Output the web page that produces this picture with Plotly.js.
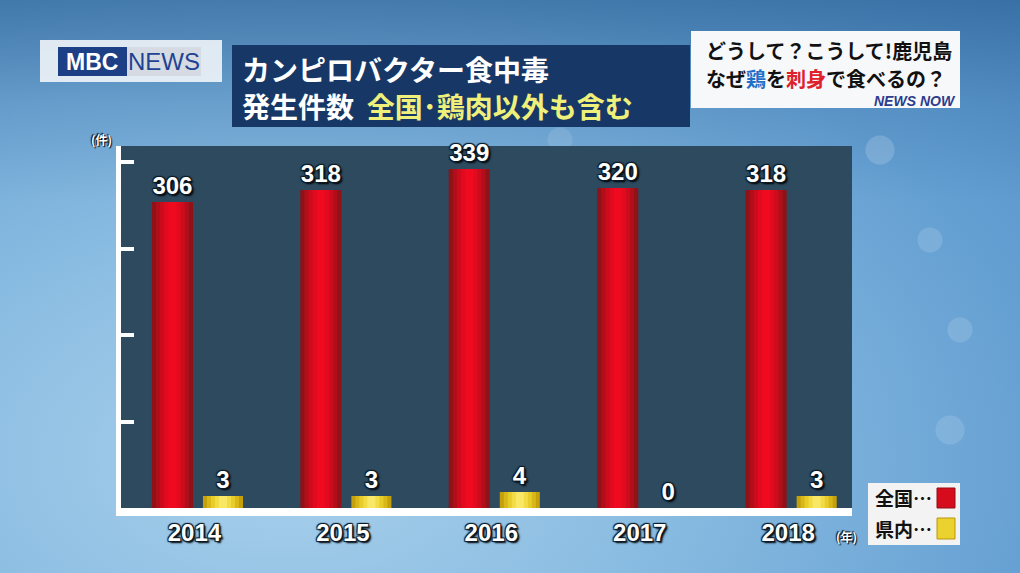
<!DOCTYPE html>
<html>
<head>
<meta charset="utf-8">
<script src="https://cdn.plot.ly/plotly-3.0.1.min.js"></script>
<style>
html,body{margin:0;padding:0;}
#bg{position:absolute;left:0;top:0;width:1020px;height:573px;
background:
 radial-gradient(circle at 880px 150px, rgba(255,255,255,0.16) 0, rgba(255,255,255,0.16) 14px, rgba(255,255,255,0) 15px),
 radial-gradient(circle at 930px 240px, rgba(255,255,255,0.13) 0, rgba(255,255,255,0.13) 12px, rgba(255,255,255,0) 13px),
 radial-gradient(circle at 960px 330px, rgba(255,255,255,0.13) 0, rgba(255,255,255,0.13) 12px, rgba(255,255,255,0) 13px),
 radial-gradient(circle at 950px 430px, rgba(255,255,255,0.12) 0, rgba(255,255,255,0.12) 14px, rgba(255,255,255,0) 15px),
 radial-gradient(circle at 560px 140px, rgba(255,255,255,0.10) 0, rgba(255,255,255,0.10) 12px, rgba(255,255,255,0) 13px),
 linear-gradient(180deg, rgba(25,75,125,0.45) 0, rgba(25,75,125,0.15) 18%, rgba(25,75,125,0) 35%),
 radial-gradient(ellipse at 28% 80%, #a9d0ec 0%, #8bbde2 35%, #649fd2 75%, #5390c8 100%);}
#chart{position:absolute;left:0;top:0;width:1020px;height:573px;}
</style>
</head>
<body>
<div id="bg"></div>
<div id="chart"></div>
<script>
// ---- data ----
const years = ['2014', '2015', '2016', '2017', '2018'];
const nationalCases = [306, 318, 339, 320, 318];   // 全国
const prefectureCases = [3, 3, 4, 0, 3];           // 県内
const seriesNames = ['全国', '県内'];
const titleLine1 = 'カンピロバクター食中毒';
const titleLine2a = '発生件数';
const titleLine2b = '全国･鶏肉以外も含む';

// ---- styling ----
const labelFont = {family: 'Liberation Sans, Arial, sans-serif', size: 24, color: '#ffffff', weight: 'bold',
  shadow: '1px 1px 1px #0b1a26, -1px -1px 1px #0b1a26, 1px -1px 1px #0b1a26, -1px 1px 1px #0b1a26, 2px 2px 2px #000'};

function layeredBars(vals, name, yaxis, center, width, colors) {
  const n = colors.length;
  const out = [];
  for (let i = 0; i < n; i++) {
    const w = width * (1 - i / n);
    const isLast = i === n - 1;
    out.push({
      type: 'bar', x: years, y: vals, name: name, yaxis: yaxis,
      offset: center - w / 2, width: w,
      marker: {color: colors[i], line: {width: 0}},
      text: isLast ? vals.map(String) : undefined,
      textposition: isLast ? 'outside' : 'none',
      textfont: labelFont,
      constraintext: 'none', cliponaxis: false,
      showlegend: false, hoverinfo: 'x+y+name'
    });
  }
  return out;
}

const traces = []
  .concat(layeredBars(nationalCases, seriesNames[0], 'y', -0.1685, 0.277,
    ['#8e1218', '#b00f1a', '#cc0c1c', '#e20a1e', '#f00a20']))
  .concat(layeredBars(prefectureCases, seriesNames[1], 'y2', 0.172, 0.27,
    ['#c4a00c', '#d8b818', '#e8cc2a', '#f2dc46', '#f8e866']));

const cjk = 'Noto Sans CJK JP, sans-serif';
const P = (px) => (px - 121) / 731;          // page x -> paper x
const Q = (py) => (508 - py) / 362;          // page y -> paper y

function box(x0, x1, y0, y1, fill, line) {
  return {type: 'rect', xref: 'paper', yref: 'paper', x0: P(x0), x1: P(x1), y0: Q(y1), y1: Q(y0),
    fillcolor: fill, line: line || {width: 0}, layer: 'above'};
}

const layout = {
  width: 1020, height: 573,
  margin: {l: 121, r: 168, t: 146, b: 65},
  paper_bgcolor: 'rgba(0,0,0,0)',
  plot_bgcolor: '#2d4a5e',
  barmode: 'overlay',
  showlegend: false,
  xaxis: {
    type: 'category', range: [-0.515, 4.41],
    showline: true, linecolor: '#ffffff', linewidth: 8,
    ticks: '', showgrid: false, zeroline: false,
    tickfont: labelFont, ticklabelshift: -3, ticklabelstandoff: -4, fixedrange: true
  },
  yaxis: {
    range: [0, 362], showgrid: false, zeroline: false,
    showline: true, linecolor: '#ffffff', linewidth: 5,
    ticks: 'inside', ticklen: 13, tickwidth: 4, tickcolor: '#ffffff',
    tickvals: [86.5, 173, 259.5, 346], showticklabels: false, fixedrange: true
  },
  yaxis2: {
    range: [0, 90.5], overlaying: 'y', visible: false, fixedrange: true
  },
  shapes: [
    box(40, 222, 40, 82, 'rgba(240,244,248,0.9)'),
    box(58, 127, 47, 76, '#1d3f86'),
    box(127, 201, 47, 76, '#d6dbe3'),
    box(232, 690, 45, 127, '#173766'),
    box(691, 960, 31, 108, '#f7f8fa'),
    box(868, 960, 483, 545, '#f3f3f3'),
    box(937, 955, 488, 508, '#d60c1c', {width: 1, color: '#8e1016'}),
    box(937, 955, 518, 539, '#ecd22e', {width: 1, color: '#b8980c'})
  ],
  annotations: [
    {xref: 'paper', yref: 'paper', x: P(92), y: Q(62), text: '<b>MBC</b>',
     showarrow: false, font: {family: 'Liberation Sans, Arial', size: 23, color: '#ffffff'}, xanchor: 'center', yanchor: 'middle'},
    {xref: 'paper', yref: 'paper', x: P(164), y: Q(62), text: 'NEWS',
     showarrow: false, font: {family: 'Liberation Sans Narrow, Liberation Sans, Arial', size: 24, color: '#1f4392'}, xanchor: 'center', yanchor: 'middle'},
    {xref: 'paper', yref: 'paper', x: P(240), y: Q(69), text: titleLine1,
     showarrow: false, align: 'left', xanchor: 'left', yanchor: 'middle',
     font: {family: cjk, size: 28, color: '#ffffff', weight: 'bold'}},
    {xref: 'paper', yref: 'paper', x: P(240), y: Q(106),
     text: titleLine2a + '  <span style="color:#eef07a">' + titleLine2b + '</span>',
     showarrow: false, align: 'left', xanchor: 'left', yanchor: 'middle',
     font: {family: cjk, size: 28, color: '#ffffff', weight: 'bold'}},
    {xref: 'paper', yref: 'paper', x: P(704), y: Q(50),
     text: 'どうして？こうして!鹿児島',
     showarrow: false, align: 'left', xanchor: 'left', yanchor: 'middle',
     font: {family: cjk, size: 20, color: '#111111', weight: 'bold'}},
    {xref: 'paper', yref: 'paper', x: P(704), y: Q(78),
     text: 'なぜ<span style="color:#1f6fc8">鶏</span>を<span style="color:#e0202a">刺身</span>で食べるの？',
     showarrow: false, align: 'left', xanchor: 'left', yanchor: 'middle',
     font: {family: cjk, size: 20, color: '#111111', weight: 'bold'}},
    {xref: 'paper', yref: 'paper', x: P(958), y: Q(101),
     text: '<i>NEWS NOW</i>', showarrow: false, xanchor: 'right', yanchor: 'middle',
     font: {family: 'Liberation Sans Narrow, Liberation Sans, Arial', size: 14, color: '#2b3c8c', weight: 'bold'}},
    {xref: 'paper', yref: 'paper', x: P(101), y: Q(139),
     text: '(件)', showarrow: false, xanchor: 'center', yanchor: 'middle',
     font: {family: cjk, size: 12, color: '#ffffff', weight: 'bold', shadow: '1px 1px 1px #000, -1px -1px 1px #000'}},
    {xref: 'paper', yref: 'paper', x: P(846), y: Q(536),
     text: '(年)', showarrow: false, xanchor: 'center', yanchor: 'middle',
     font: {family: cjk, size: 12, color: '#ffffff', weight: 'bold', shadow: '1px 1px 1px #000, -1px -1px 1px #000'}},
    {xref: 'paper', yref: 'paper', x: P(873), y: Q(497),
     text: seriesNames[0] + '…', showarrow: false, xanchor: 'left', yanchor: 'middle',
     font: {family: cjk, size: 19, color: '#111111', weight: 'bold'}},
    {xref: 'paper', yref: 'paper', x: P(873), y: Q(528),
     text: seriesNames[1] + '…', showarrow: false, xanchor: 'left', yanchor: 'middle',
     font: {family: cjk, size: 19, color: '#111111', weight: 'bold'}}
  ]
};

Plotly.newPlot('chart', traces, layout, {displayModeBar: false, staticPlot: true});
</script>
</body>
</html>
